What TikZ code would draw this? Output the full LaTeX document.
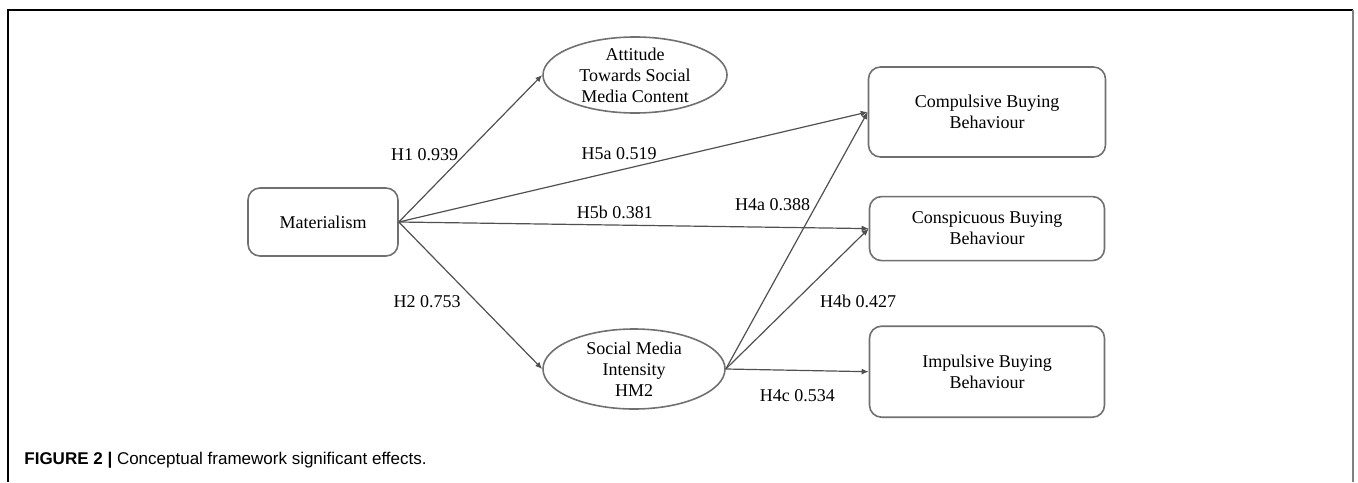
\documentclass[tikz,border=0pt]{standalone}
\usepackage{fontspec}
\setmainfont{Liberation Serif}
\newfontfamily\capfont{Liberation Sans}
\usepackage{xcolor}
\usepackage{tikz}
\usetikzlibrary{positioning,arrows.meta,shapes.geometric}
\definecolor{boxgray}{RGB}{112,112,112}
\definecolor{linegray}{RGB}{80,80,80}

\begin{document}
\begin{tikzpicture}[x=0.5pt, y=-0.5pt,
		box/.style={draw=boxgray, line width=0.8pt, rounded corners=6pt, align=center,
								font=\fontsize{9}{10.5}\selectfont, minimum width=117.5pt},
		latent/.style={draw=boxgray, line width=0.8pt, ellipse, inner sep=0pt,
								minimum width=92pt, minimum height=38pt},
		arrow/.style={-{Latex[length=3.5pt,width=3pt]}, line width=0.6pt, draw=linegray},
		pathlabel/.style={font=\fontsize{9}{10.5}\selectfont, inner sep=3pt},
	]
		% Rahmen
		\useasboundingbox (0,0) rectangle (1358,482);
		\draw[line width=0.8pt] (8,482) -- (8,10) -- (1353,10);
		\draw[line width=1pt, gray] (1353,10) -- (1353,482);

		% links: Materialism
		\node[box, minimum width=75pt, minimum height=34pt] (mat) at (323,222) {Materialism};

		% Mitte: Einstellung und Intensität
		\node[latent] (att) at (635,75)
			[label={[align=center, font=\fontsize{9}{10.5}\selectfont]center:Attitude\\Towards Social\\Media Content}] {};
		\node[latent, minimum width=91pt, minimum height=40pt] (smi) at (634,369)
			[label={[align=center, font=\fontsize{9}{10.5}\selectfont]center:Social Media\\Intensity\\HM2}] {};

		% rechts: Kaufverhalten
		\node[box, minimum width=118.5pt, minimum height=45pt] (comp) at (987,112)
			{Compulsive Buying\\Behaviour};
		\node[box, minimum height=32pt, below=19pt of comp] (consp)
			{Conspicuous Buying\\Behaviour};
		\node[box, minimum height=45.5pt, below=32pt of consp] (imp)
			{Impulsive Buying\\Behaviour};

		% Pfade
		\draw[arrow] (mat.east) -- node[pathlabel, pos=0.46, left]{H1 0.939} (att.west);
		\draw[arrow] (mat.east) -- node[pathlabel, pos=0.47, above=2pt]{H5a 0.519} (comp.west);
		\draw[arrow] (mat.east) -- node[pathlabel, pos=0.46, above]{H5b 0.381} (consp.west);
		\draw[arrow] (mat.east) -- node[pathlabel, pos=0.54, left=4.5pt]{H2 0.753} (smi.west);
		\draw[arrow] (smi.east) -- node[pathlabel, pos=0.64, left]{H4a 0.388} (comp.west);
		\draw[arrow] (smi.east) -- node[pathlabel, pos=0.48, right=9.5pt]{H4b 0.427} (consp.west);
		\draw[arrow] (smi.east) -- node[pathlabel, pos=0.5, below=6.5pt]{H4c 0.534} (imp.west);

		% Unterschrift
		\node[anchor=base west, inner sep=0pt, font=\capfont\fontsize{8.5}{10}\selectfont] (cap) at (24,464)
			{\textbf{FIGURE 2 |} Conceptual framework significant effects.};
	\end{tikzpicture}
\end{document}
